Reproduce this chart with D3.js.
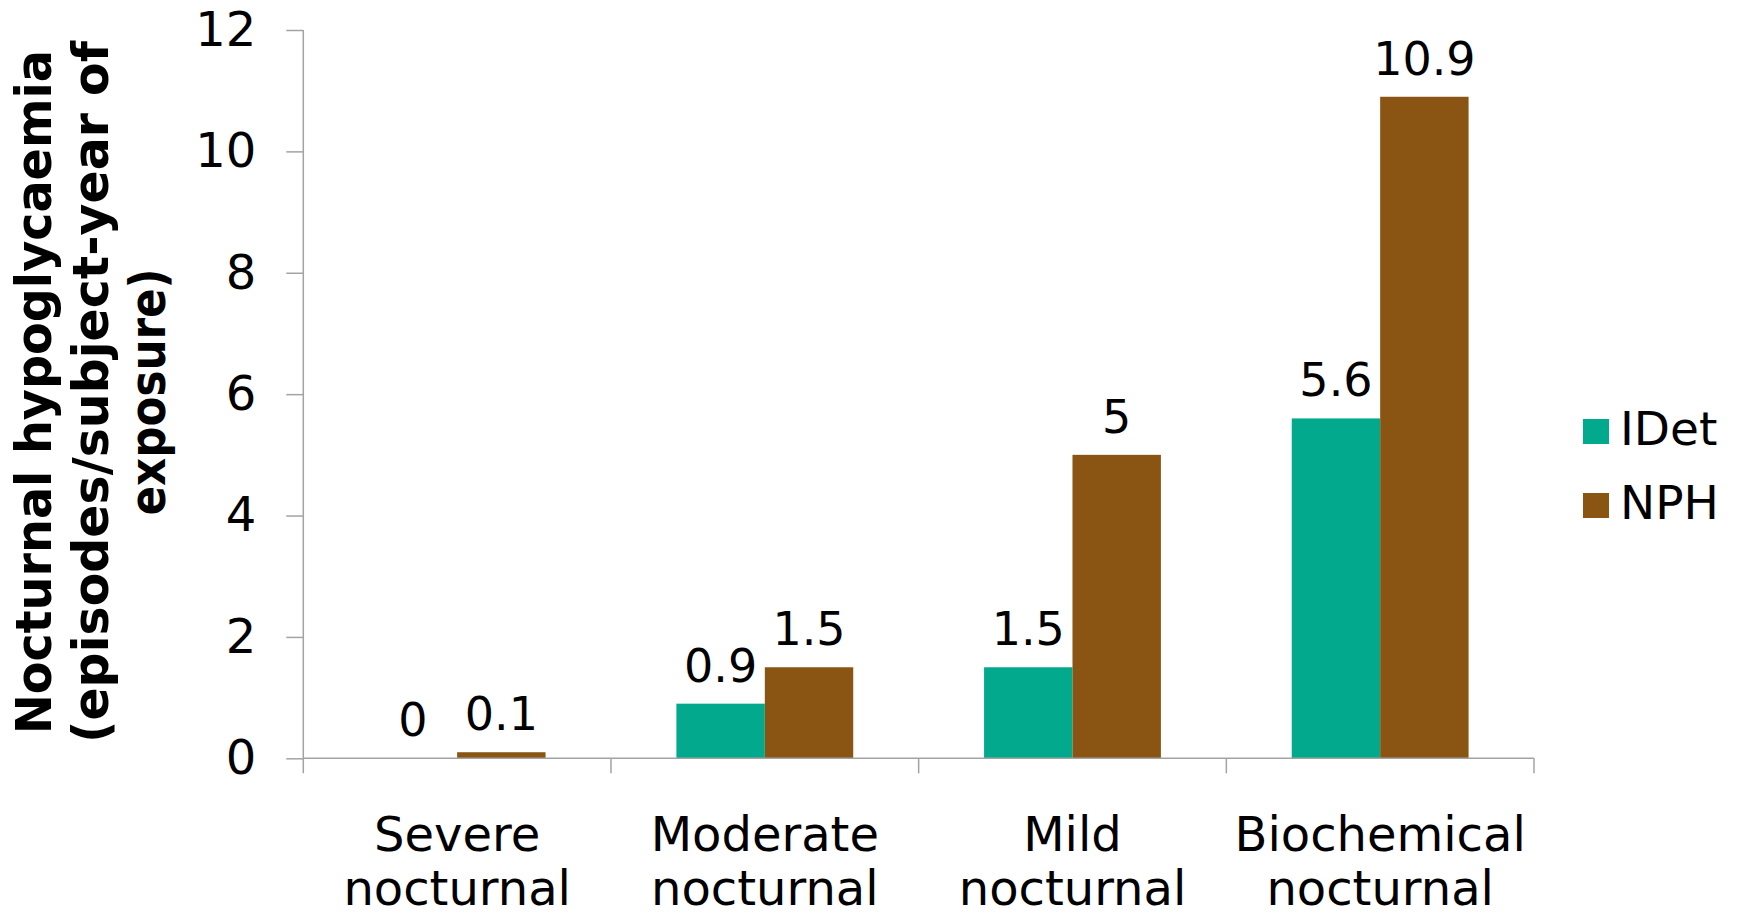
<!DOCTYPE html>
<html>
<head>
<meta charset="utf-8">
<script src="https://cdn.jsdelivr.net/npm/d3@7"></script>
<style>
  html, body { margin: 0; padding: 0; background: #fff; }
  svg { display: block; }
  text { font-family: "DejaVu Sans", Verdana, sans-serif; fill: #000; }
</style>
</head>
<body>
<svg id="chart" width="1746" height="917"></svg>
<script>
// ---- data ----
const categories = ["Severe nocturnal", "Moderate nocturnal", "Mild nocturnal", "Biochemical nocturnal"];
const categoryLines = [["Severe", "nocturnal"], ["Moderate", "nocturnal"], ["Mild", "nocturnal"], ["Biochemical", "nocturnal"]];
const seriesNames = ["IDet", "NPH"];
const idetValues = [0, 0.9, 1.5, 5.6];
const nphValues = [0.1, 1.5, 5, 10.9];
const yTicks = [0, 2, 4, 6, 8, 10, 12];
const yTitleLines = ["Nocturnal hypoglycaemia", "(episodes/subject-year of", "exposure)"];
const seriesColors = ["#02A98C", "#8A5412"];

(function () {
// ---- layout ----
const svg = d3.select("#chart");
const plotLeft = 303.3, plotRight = 1534, plotTop = 30, plotBottom = 758.3;

const x0 = d3.scaleBand().domain(categories).range([plotLeft, plotRight]).padding(0);
const x1 = d3.scaleBand().domain(seriesNames).range([0, x0.bandwidth()]).paddingInner(0).paddingOuter(0.74);
const y = d3.scaleLinear().domain([0, 12]).range([plotBottom, plotTop]);
const color = d3.scaleOrdinal().domain(seriesNames).range(seriesColors);

const axisColor = "#a3a3a3";

// bars
const rows = categories.map((c, i) => ({cat: c, vals: [
  {s: "IDet", v: idetValues[i]}, {s: "NPH", v: nphValues[i]}
]}));

const groups = svg.append("g").selectAll("g").data(rows).join("g")
  .attr("transform", d => `translate(${x0(d.cat)},0)`);

groups.selectAll("rect").data(d => d.vals).join("rect")
  .attr("x", d => x1(d.s))
  .attr("width", x1.bandwidth())
  .attr("y", d => y(d.v))
  .attr("height", d => y(0) - y(d.v))
  .attr("fill", d => color(d.s));

groups.selectAll("text.val").data(d => d.vals).join("text")
  .attr("class", "val")
  .attr("x", d => x1(d.s) + x1.bandwidth() / 2)
  .attr("y", d => y(d.v) - 22)
  .attr("text-anchor", "middle")
  .style("font-size", "46px")
  .text(d => String(d.v));

// y axis ticks + labels
const yAxis = d3.axisLeft(y).tickValues(yTicks).tickSize(17).tickPadding(30).tickFormat(d3.format("d"));
const yg = svg.append("g").attr("transform", `translate(${plotLeft},0)`).call(yAxis);
yg.select(".domain").remove();
yg.selectAll(".tick line").attr("stroke", axisColor).attr("stroke-width", 1.5);
yg.selectAll(".tick text").style("font-size", "48px").style("font-family", "'DejaVu Sans', Verdana, sans-serif").attr("fill", "#000");

// y axis line
svg.append("line")
  .attr("x1", plotLeft).attr("x2", plotLeft)
  .attr("y1", y(12)).attr("y2", plotBottom + 15)
  .attr("stroke", axisColor).attr("stroke-width", 1.5);

// x axis line
svg.append("line")
  .attr("x1", plotLeft).attr("x2", plotRight)
  .attr("y1", y(0)).attr("y2", y(0))
  .attr("stroke", axisColor).attr("stroke-width", 1.5);

// x boundary ticks
const boundaries = categories.map(c => x0(c)).concat([x0(categories[categories.length - 1]) + x0.bandwidth()]);
svg.append("g").selectAll("line").data(boundaries.slice(1)).join("line")
  .attr("x1", d => d).attr("x2", d => d)
  .attr("y1", y(0)).attr("y2", y(0) + 15)
  .attr("stroke", axisColor).attr("stroke-width", 1.5);

// category labels
const cl = svg.append("g").selectAll("text").data(categories).join("text")
  .attr("x", d => x0(d) + x0.bandwidth() / 2)
  .attr("text-anchor", "middle")
  .style("font-size", "48px");
cl.each(function(d, i) {
  const t = d3.select(this);
  categoryLines[i].forEach((ln, j) => {
    t.append("tspan").attr("x", x0(d) + x0.bandwidth() / 2).attr("y", 851 + j * 54).text(ln);
  });
});

// y title
const titleLens = [684, 702, 247];
yTitleLines.forEach((ln, j) => {
  svg.append("text")
    .attr("transform", `translate(${51 + j * 57},392) rotate(-90)`)
    .attr("text-anchor", "middle")
    .attr("textLength", titleLens[j])
    .attr("lengthAdjust", "spacingAndGlyphs")
    .style("font-size", "49px")
    .style("font-weight", "bold")
    .text(ln);
});

// legend
const lg = svg.append("g").selectAll("g").data(seriesNames).join("g")
  .attr("transform", (d, i) => `translate(1583,${419 + i * 74})`);
lg.append("rect").attr("width", 26).attr("height", 25).attr("fill", d => color(d));
lg.append("text").attr("x", 37).attr("y", 26).style("font-size", "47px").text(d => d);
})();
</script>
</body>
</html>
